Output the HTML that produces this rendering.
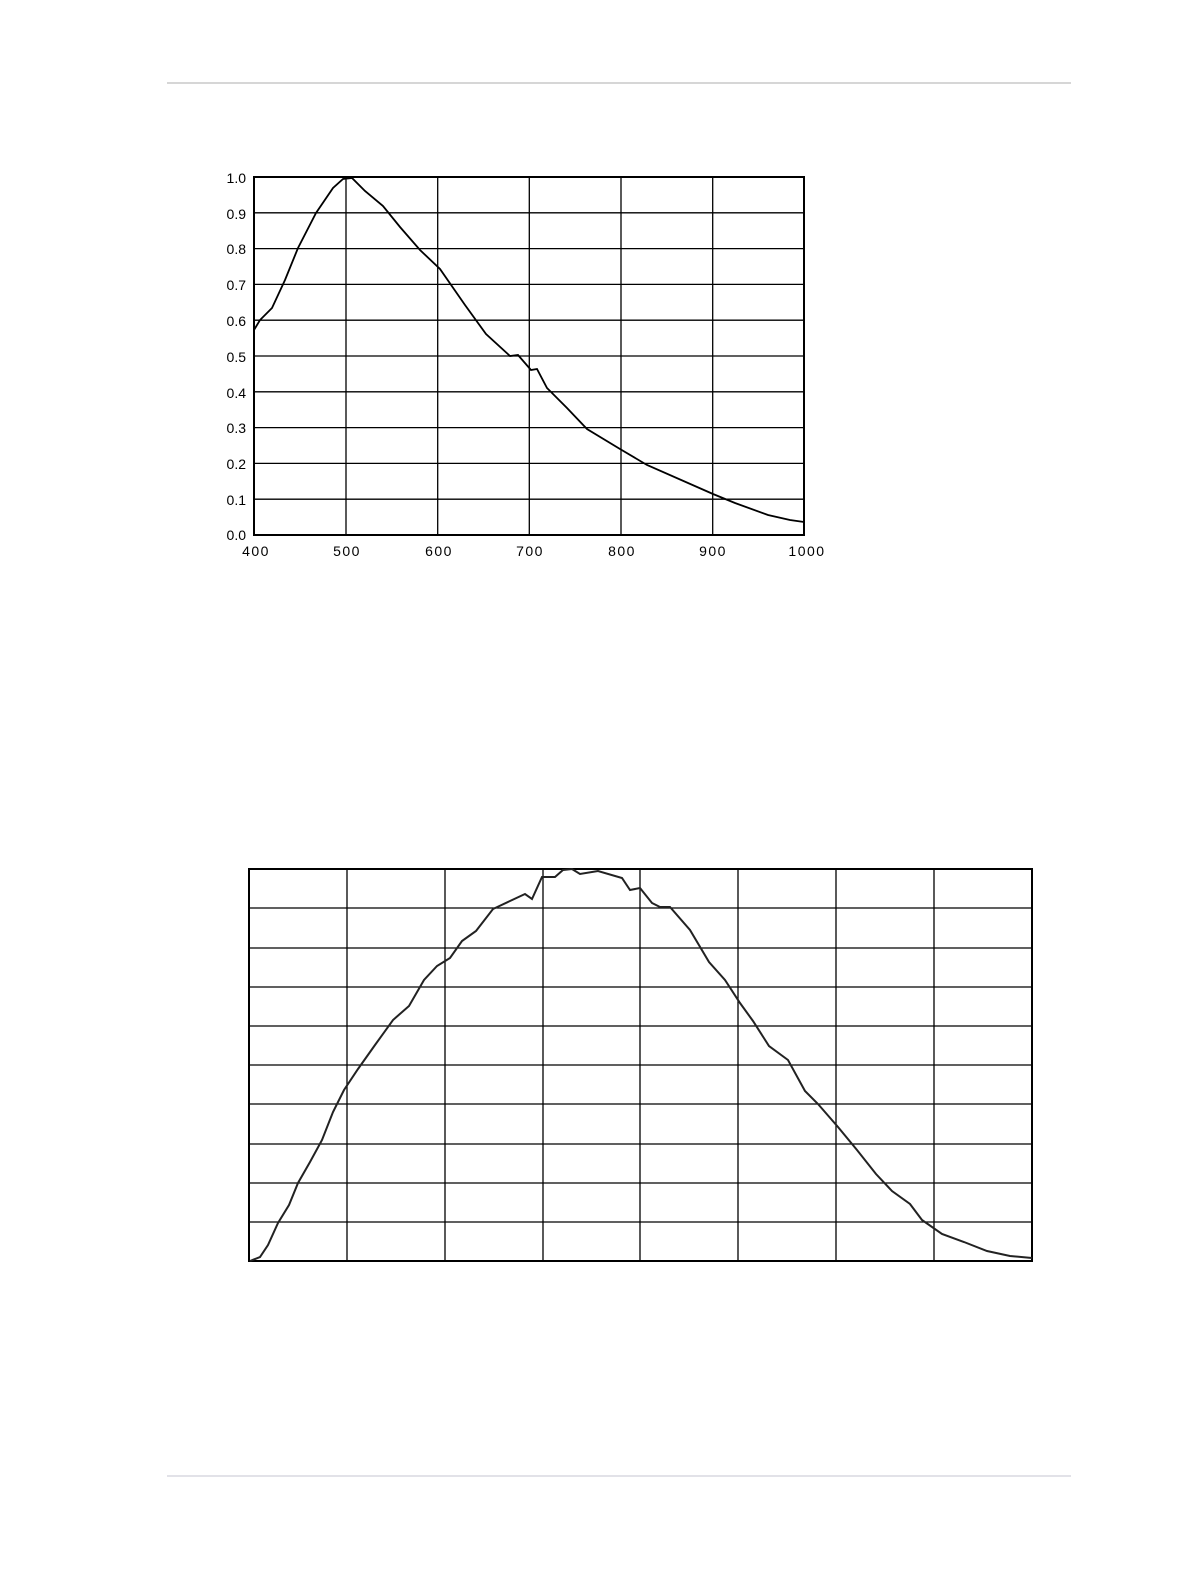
<!DOCTYPE html>
<html><head><meta charset="utf-8"><style>
html,body{margin:0;padding:0;background:#fff;}
svg{display:block;}
text{font-family:"Liberation Sans",sans-serif;font-size:14px;fill:#000;}
</style></head><body>
<svg width="1190" height="1580" viewBox="0 0 1190 1580" xmlns="http://www.w3.org/2000/svg">
<line x1="167" y1="83" x2="1071" y2="83" stroke="#c8c8c8" stroke-width="1.5"/>
<line x1="167" y1="1476" x2="1071" y2="1476" stroke="#d8d8e0" stroke-width="1.5"/>
<!-- top chart -->
<g stroke="#000" stroke-width="1.3" fill="none">
<path d="M346 177V535M437.7 177V535M529.3 177V535M621 177V535M712.7 177V535"/>
<path d="M254 212.8H804M254 248.6H804M254 284.4H804M254 320.2H804M254 356H804M254 391.8H804M254 427.6H804M254 463.4H804M254 499.2H804"/>
<rect x="254" y="177" width="550" height="358" stroke-width="2"/>
<polyline stroke-width="1.8" points="254,330 260,320 272,308 285,280 298,248 316,213 333,188 343,179 352,178 365,191 383,206 400,227 420,250 440,269 465,305 486,334 510,356 518,355 531,370 537,369 547,388 567,408 587,429 620,449 647,465 713,494 735,503 768,515 790,520 804,522"/>
</g>
<g text-anchor="end">
<text x="246" y="183">1.0</text><text x="246" y="219">0.9</text><text x="246" y="254">0.8</text><text x="246" y="290">0.7</text><text x="246" y="326">0.6</text><text x="246" y="362">0.5</text><text x="246" y="398">0.4</text><text x="246" y="433">0.3</text><text x="246" y="469">0.2</text><text x="246" y="505">0.1</text><text x="246" y="540">0.0</text>
</g>
<g text-anchor="middle" letter-spacing="1.5">
<text x="256" y="556">400</text><text x="347" y="556">500</text><text x="439" y="556">600</text><text x="530" y="556">700</text><text x="622" y="556">800</text><text x="713" y="556">900</text><text x="807" y="556">1000</text>
</g>
<!-- bottom chart -->
<g stroke="#000" stroke-width="1.3" fill="none">
<path d="M347 869V1261M445 869V1261M543 869V1261M640 869V1261M738 869V1261M836 869V1261M934 869V1261"/>
<path d="M249 908H1032M249 948H1032M249 987H1032M249 1026H1032M249 1065H1032M249 1104H1032M249 1144H1032M249 1183H1032M249 1222H1032"/>
<rect x="249" y="869" width="783" height="392" stroke-width="2"/>
<polyline stroke="#222" stroke-width="2" points="250,1261 260,1257 268,1245 278,1223 289,1205 298,1183 310,1162 322,1140 333,1112 344,1090 358,1069 375,1045 393,1020 409,1006 424,980 437,966 450,958 462,941 476,931 493,909 510,901 525,894 532,899 542,877 555,877 563,870 572,869 580,874 598,871 622,878 630,890 640,888 652,903 660,907 670,907 690,930 709,962 725,980 740,1003 753,1021 769,1046 788,1060 805,1091 818,1104 838,1127 857,1150 876,1174 892,1191 910,1204 922,1220 942,1234 964,1242 987,1251 1010,1256 1032,1258"/>
</g>
</svg>
</body></html>
